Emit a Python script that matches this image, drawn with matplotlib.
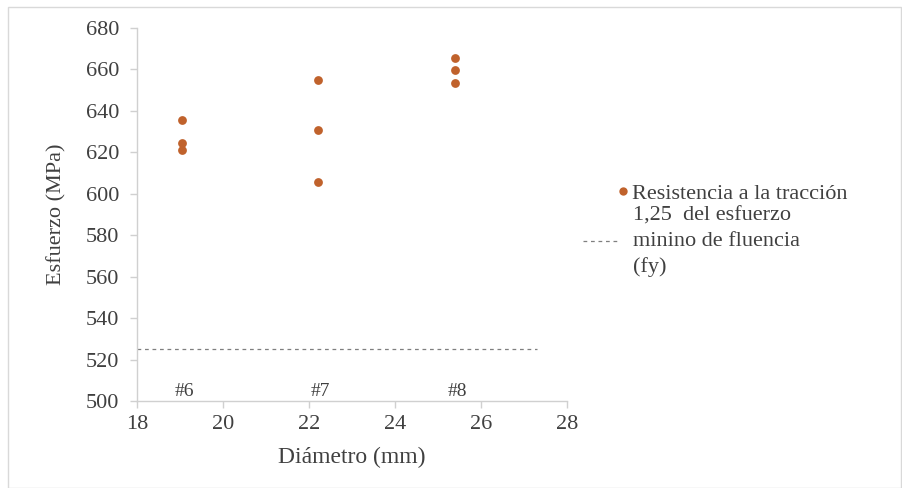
import matplotlib
matplotlib.use("Agg")
import matplotlib.pyplot as plt
from matplotlib.lines import Line2D
from matplotlib.patches import Rectangle

plt.rcParams['font.family'] = ['Liberation Serif', 'DejaVu Serif']

# Tensile strength per bar diameter
diam_6 = [19.05, 19.05, 19.05]
diam_7 = [22.2, 22.2, 22.2]
diam_8 = [25.4, 25.4, 25.4]
res_6 = [635.5, 624.5, 621.0]
res_7 = [655.0, 630.5, 605.5]
res_8 = [665.5, 659.5, 653.5]

# 1.25 x minimum yield stress (fy = 420 MPa)
fy_x = [18.0, 27.3]
fy_y = [525.0, 525.0]

bar_names = ['#6', '#7', '#8']
bar_x = [19.05, 22.2, 25.4]

x_ticks = [18, 20, 22, 24, 26, 28]
y_ticks = [500, 520, 540, 560, 580, 600, 620, 640, 660, 680]

text_color = '#404040'
marker_color = '#c0622c'
line_color = '#7f7f7f'

fig = plt.figure(figsize=(9.02, 4.88), dpi=100)
fig.patches.append(Rectangle((0.009, 0.0), 0.99, 0.985, transform=fig.transFigure,
                             fill=False, edgecolor='#d9d9d9', linewidth=1.0))
ax = fig.add_axes([0.152, 0.178, 0.477, 0.765])

xs = diam_6 + diam_7 + diam_8
ys = res_6 + res_7 + res_8
ax.scatter(xs, ys, s=40, color=marker_color, zorder=3, linewidths=0)
ax.plot(fy_x, fy_y, color=line_color, linestyle=(0, (3, 3)), linewidth=0.9)

for name, x in zip(bar_names, bar_x):
    ax.text(x + 0.05, 500.5, name, ha='center', va='bottom', fontsize=14, color=text_color)

ax.set_xlim(18, 28)
ax.set_ylim(500, 680)
ax.set_xticks(x_ticks)
ax.set_yticks(y_ticks)
ax.tick_params(axis='both', labelsize=16, colors='#d0d0d0', labelcolor=text_color,
               length=5, width=1.0, direction='out')
ax.tick_params(axis='x', pad=5)
ax.tick_params(axis='y', pad=8)
for side in ['top', 'right']:
    ax.spines[side].set_visible(False)
for side in ['left', 'bottom']:
    ax.spines[side].set_color('#d0d0d0')
    ax.spines[side].set_linewidth(1.0)

ax.set_xlabel('Diámetro (mm)', fontsize=17, color=text_color, labelpad=9)
ax.set_ylabel('Esfuerzo (MPa)', fontsize=16, color=text_color, labelpad=14)

# Legend: one entry per series, stacked on the right
leg1 = fig.legend([Line2D([], [], linestyle='none', marker='o', markersize=6,
                          markerfacecolor=marker_color, markeredgewidth=0)],
                  ['Resistencia a la tracción'],
                  loc='upper left', bbox_to_anchor=(0.6846, 0.624),
                  frameon=False, fontsize=16, handlelength=0.5, handletextpad=0.16,
                  borderpad=0, borderaxespad=0, labelcolor=text_color)
leg2 = fig.legend([Line2D([], [], color=line_color, linestyle=(0, (3, 3)), linewidth=0.9)],
                  ['1,25  del esfuerzo\nminino de fluencia\n(fy)'],
                  loc='upper left', bbox_to_anchor=(0.6463, 0.577),
                  frameon=False, fontsize=16, handlelength=1.55, handletextpad=0.68,
                  borderpad=0, borderaxespad=0, labelcolor=text_color)
for t in leg2.get_texts():
    t.set_linespacing(1.45)

fig.savefig('out.png', dpi=100)
